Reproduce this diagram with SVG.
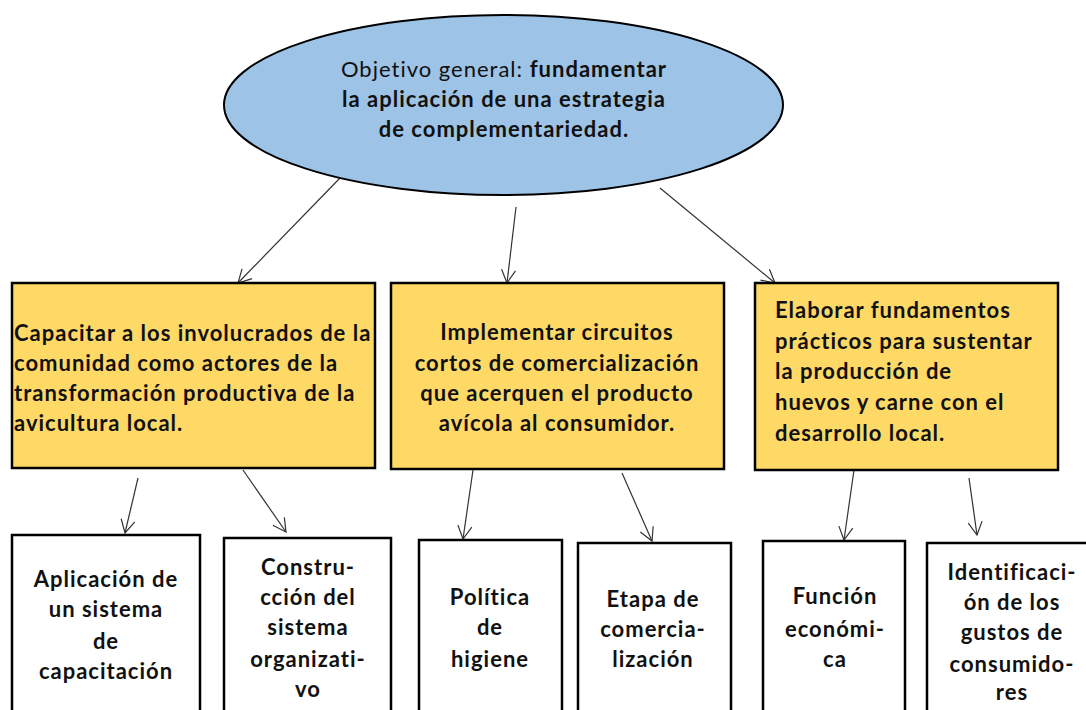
<svg xmlns="http://www.w3.org/2000/svg" width="1086" height="710" viewBox="0 0 1086 710">
<defs>
<style>
.t{font-family:Lato,"Liberation Sans",sans-serif;font-size:22px;font-weight:bold;fill:#111;letter-spacing:1px}
.c{text-anchor:middle}
.y{fill:#FFD966;stroke:#000;stroke-width:2.5}
.w{fill:#fff;stroke:#000;stroke-width:2.5}
.a{stroke:#333;stroke-width:1.2;fill:none;marker-end:url(#ah)}
</style>
<marker id="ah" markerUnits="userSpaceOnUse" markerWidth="16" markerHeight="16" refX="14" refY="8" orient="auto">
<path d="M1,1 L14,8 L1,15" fill="none" stroke="#333" stroke-width="1.2"/>
</marker>
</defs>
<rect width="1086" height="710" fill="#fff"/>
<g id="connectors">
<line class="a" x1="340" y1="178" x2="238" y2="283"/>
<line class="a" x1="516" y1="207" x2="507" y2="283"/>
<line class="a" x1="660" y1="188" x2="775" y2="283"/>
<line class="a" x1="138" y1="478" x2="125" y2="533"/>
<line class="a" x1="243" y1="470" x2="286" y2="532"/>
<line class="a" x1="473" y1="470" x2="463" y2="539"/>
<line class="a" x1="622" y1="473" x2="652" y2="541"/>
<line class="a" x1="854" y1="470" x2="844" y2="540"/>
<line class="a" x1="969" y1="478" x2="977" y2="535"/>
</g>
<g id="objetivo">
<ellipse cx="503.5" cy="105" rx="279.5" ry="90" fill="#9DC3E6" stroke="#000" stroke-width="2"/>
<text class="t c" x="504" y="77"><tspan font-weight="normal">Objetivo general: </tspan>fundamentar</text>
<text class="t c" x="504" y="107">la aplicación de una estrategia</text>
<text class="t c" x="504" y="137">de complementariedad.</text>
</g>
<g id="capacitar">
<rect class="y" x="12" y="283" width="363" height="185"/>
<text class="t" x="14" y="341">Capacitar a los involucrados de la</text>
<text class="t" x="14" y="371">comunidad como actores de la</text>
<text class="t" x="14" y="401">transformación productiva de la</text>
<text class="t" x="14" y="431">avicultura local.</text>
</g>
<g id="implementar">
<rect class="y" x="391" y="283" width="333" height="186"/>
<text class="t c" x="557" y="340">Implementar circuitos</text>
<text class="t c" x="557" y="371">cortos de comercialización</text>
<text class="t c" x="557" y="401">que acerquen el producto</text>
<text class="t c" x="557" y="431">avícola al consumidor.</text>
</g>
<g id="elaborar">
<rect class="y" x="755" y="283" width="303" height="187"/>
<text class="t" x="775" y="318">Elaborar fundamentos</text>
<text class="t" x="775" y="349">prácticos para sustentar</text>
<text class="t" x="775" y="379">la producción de</text>
<text class="t" x="775" y="410">huevos y carne con el</text>
<text class="t" x="775" y="441">desarrollo local.</text>
</g>
<g id="aplicacion">
<rect class="w" x="12" y="535" width="188" height="190"/>
<text class="t c" x="106" y="587">Aplicación de</text>
<text class="t c" x="106" y="617">un sistema</text>
<text class="t c" x="106" y="649">de</text>
<text class="t c" x="106" y="679">capacitación</text>
</g>
<g id="construccion">
<rect class="w" x="224" y="538" width="167" height="190"/>
<text class="t c" x="308" y="575">Constru-</text>
<text class="t c" x="308" y="605">cción del</text>
<text class="t c" x="308" y="635">sistema</text>
<text class="t c" x="308" y="667">organizati-</text>
<text class="t c" x="308" y="697">vo</text>
</g>
<g id="politica">
<rect class="w" x="419" y="540" width="143" height="190"/>
<text class="t c" x="490" y="605">Política</text>
<text class="t c" x="490" y="635">de</text>
<text class="t c" x="490" y="667">higiene</text>
</g>
<g id="etapa">
<rect class="w" x="578" y="543" width="153" height="190"/>
<text class="t c" x="653" y="607">Etapa de</text>
<text class="t c" x="653" y="637">comercia-</text>
<text class="t c" x="653" y="667">lización</text>
</g>
<g id="funcion">
<rect class="w" x="763" y="541" width="142" height="190"/>
<text class="t c" x="835" y="604">Función</text>
<text class="t c" x="835" y="637">económi-</text>
<text class="t c" x="835" y="667">ca</text>
</g>
<g id="identificacion">
<rect class="w" x="927" y="543" width="170" height="190"/>
<text class="t c" x="1012" y="580">Identificaci-</text>
<text class="t c" x="1012" y="610">ón de los</text>
<text class="t c" x="1012" y="640">gustos de</text>
<text class="t c" x="1012" y="672">consumido-</text>
<text class="t c" x="1012" y="700">res</text>
</g>
</svg>
